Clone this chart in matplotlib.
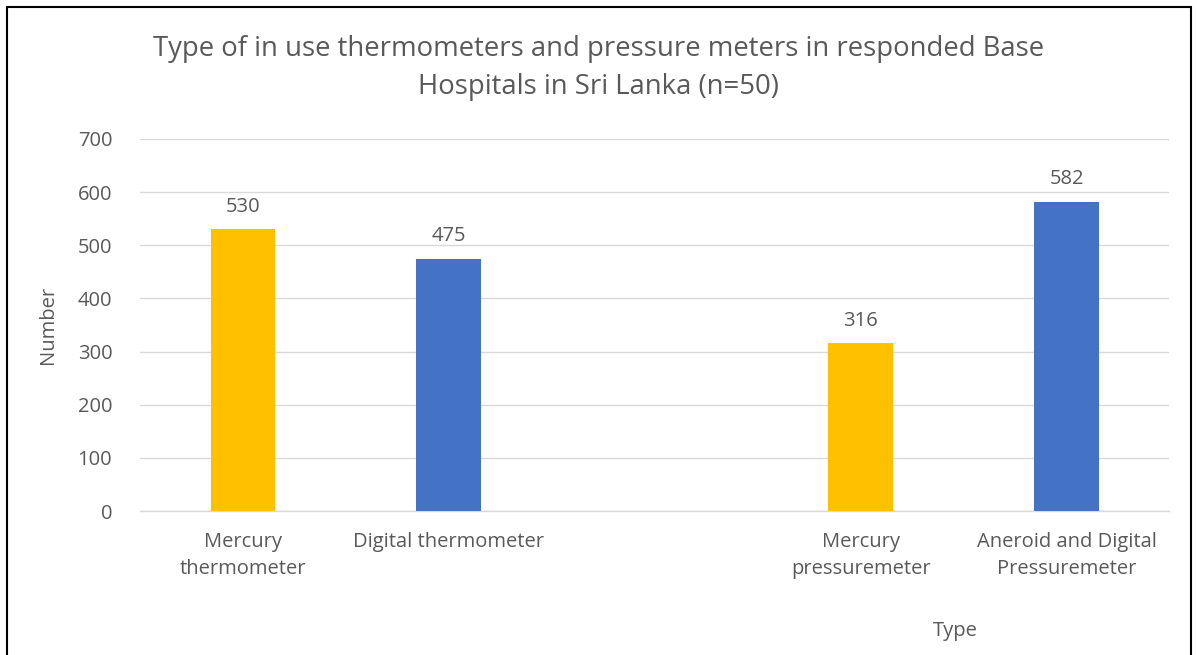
import matplotlib.pyplot as plt
from matplotlib.patches import Rectangle

categories = ["Mercury\nthermometer", "Digital thermometer", "",
              "Mercury\npressuremeter", "Aneroid and Digital\nPressuremeter"]
values = [530, 475, 0, 316, 582]
bar_colors = ["#FFC000", "#4472C4", "#FFC000", "#FFC000", "#4472C4"]
show_bar = [True, True, False, True, True]

plt.rcParams["font.family"] = ["Open Sans", "DejaVu Sans"]
grey = "#595959"

fig = plt.figure(figsize=(11.97, 6.55), dpi=100)
ax = fig.add_axes([0.117, 0.2198, 0.86, 0.568])

xs = list(range(len(categories)))
for x, v, c, s in zip(xs, values, bar_colors, show_bar):
    if not s:
        continue
    ax.bar(x, v, width=0.315, color=c, zorder=3)
    ax.annotate(str(v), (x, v), xytext=(0, 9), textcoords="offset points",
                ha="center", va="bottom", fontsize=14.5, color=grey)

ax.set_xlim(-0.5, 4.5)
ax.set_ylim(0, 700)
ax.set_yticks(range(0, 701, 100))
ax.set_xticks(xs)
ax.set_xticklabels(categories, fontsize=14.5, color=grey, linespacing=1.5)
ax.tick_params(axis="y", labelsize=14.5, labelcolor=grey, length=0, pad=20)
ax.tick_params(axis="x", length=0, pad=15)
ax.grid(axis="y", color="#D9D9D9", linewidth=1, zorder=0)
for sp in ["top", "right", "left"]:
    ax.spines[sp].set_visible(False)
ax.spines["bottom"].set_color("#D9D9D9")
ax.spines["bottom"].set_linewidth(1)

ax.set_ylabel("Number", fontsize=14.5, color=grey, labelpad=14)
fig.text(955 / 1197, 1 - 631 / 655, "Type", fontsize=14.5, color=grey,
         ha="center", va="center")
fig.text(0.5, 1 - 68 / 655,
         "Type of in use thermometers and pressure meters in responded Base\nHospitals in Sri Lanka (n=50)",
         fontsize=19.8, color=grey, ha="center", va="center", linespacing=1.5)

# chart border
fig.patches.append(Rectangle((7 / 1197, -0.05), (1191 - 7) / 1197, 1.05 - 7 / 655,
                             transform=fig.transFigure, fill=False,
                             edgecolor="black", linewidth=1.5))

fig.savefig("out.png", dpi=100)
